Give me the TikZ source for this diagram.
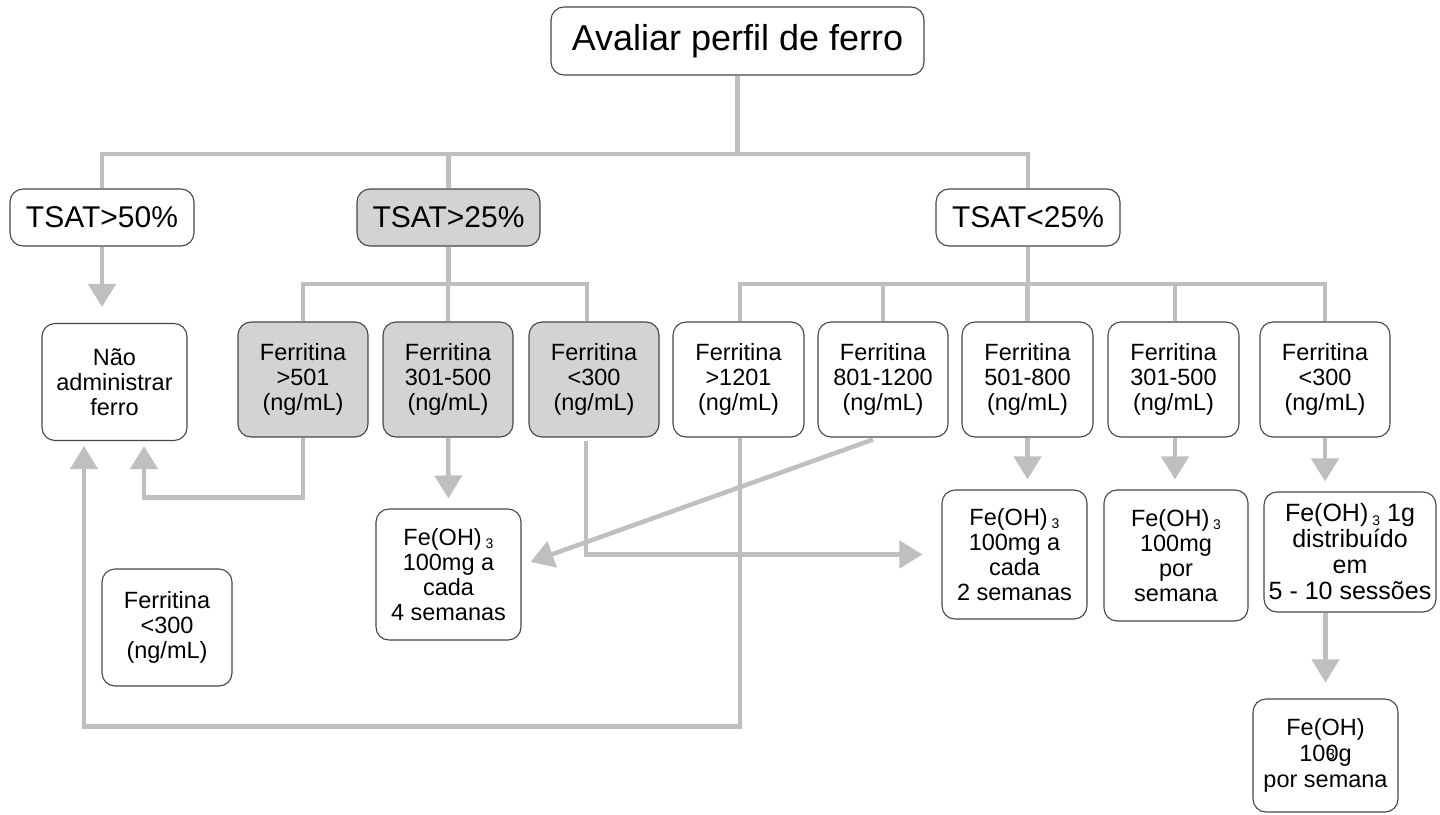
\documentclass[tikz,border=0pt]{standalone}
\usepackage{fontspec}
\setmainfont{Liberation Sans}
\usetikzlibrary{arrows.meta,calc}
\definecolor{conncol}{RGB}{190,191,193}
\definecolor{boxfill}{RGB}{210,211,213}
\definecolor{boxline}{RGB}{70,70,70}
\newcommand{\subthree}{\,\raisebox{-0.25ex}{\fontsize{14}{14}\selectfont 3}}
\tikzset{
  bx/.style={draw=boxline, line width=1.1pt, rounded corners=13pt, align=center,
             inner sep=0pt, fill=white, font=\fontsize{23.5}{25}\selectfont},
  gbx/.style={bx, fill=boxfill},
  sz/.style 2 args={minimum width=#1pt, minimum height=#2pt},
  tsat/.style={font=\fontsize{30}{32}\selectfont},
  ln/.style={draw=conncol, line width=4.5pt},
  ar/.style={ln, -{Triangle[width=27pt,length=23pt]}},
}
\begin{document}
\begin{tikzpicture}[x=1pt,y=-1pt]
\useasboundingbox (0,0) rectangle (1440,814);

% top level
\node[bx, sz={373}{68}, font=\fontsize{36}{40}\selectfont] (top) at (737.5,41) {Avaliar perfil de ferro};
\node[bx, sz={184}{57}, tsat] (t50) at (102,217.5) {TSAT>50\%};
\node[gbx, sz={183}{57}, tsat] (t25) at (448.5,217.5) {TSAT>25\%};
\node[bx, sz={184}{57}, tsat] (tl25) at (1028,217.5) {TSAT<25\%};

% second level
\node[bx, sz={145}{117}] (na) at (114.5,382) {Não\\administrar\\ferro};
\node[gbx, sz={130}{115}] (f1) at (303,379.5) {Ferritina\\>501\\(ng/mL)};
\node[gbx, sz={130}{115}] (f2) at (448,379.5) {Ferritina\\301-500\\(ng/mL)};
\node[gbx, sz={130}{115}] (f3) at (594,379.5) {Ferritina\\<300\\(ng/mL)};
\node[bx, sz={131}{115}] (g1) at (738.5,379.5) {Ferritina\\>1201\\(ng/mL)};
\node[bx, sz={130}{115}] (g2) at (883,379.5) {Ferritina\\801-1200\\(ng/mL)};
\node[bx, sz={131}{115}] (g3) at (1027.5,379.5) {Ferritina\\501-800\\(ng/mL)};
\node[bx, sz={131}{115}] (g4) at (1173.5,379.5) {Ferritina\\301-500\\(ng/mL)};
\node[bx, sz={130}{115}] (g5) at (1325,379.5) {Ferritina\\<300\\(ng/mL)};

% third level
\node[bx, sz={145}{131}] (fe4) at (448.5,574.5) {Fe(OH)\subthree\\100mg a\\cada\\4 semanas};
\node[bx, sz={130}{117}] (lone) at (167,627.5) {Ferritina\\<300\\(ng/mL)};
\node[bx, sz={145}{129}] (fe2) at (1014.5,554.5) {Fe(OH)\subthree\\100mg a\\cada\\2 semanas};
\node[bx, sz={144}{131}] (fe1) at (1176,555.5) {Fe(OH)\subthree\\100mg\\por\\semana};
\node[bx, sz={172}{120}, font=\fontsize{25}{26}\selectfont] (fe10) at (1350,552) {Fe(OH)\subthree\ 1g\\distribuído\\em\\5 - 10 sessões};
\node[bx, sz={145}{113}, font=\fontsize{23.5}{26}\selectfont] (feb) at (1325.5,755.5) {Fe(OH)\\10\rlap{\kern0.05em\raisebox{0.15ex}{\fontsize{15}{15}\selectfont 3}}0g\\por semana};

% junctions
\coordinate (h1) at (737.5,154);
\coordinate (h2) at (448.5,284);
\coordinate (h3) at (1028,284);

% top tree
\draw[ln] (top.south) -- (h1);
\draw[ln] (t50.north) |- (h1) -| (tl25.north);
\draw[ln] (t25.north) -- (t25.north |- h1);

% TSAT>25 tree
\draw[ln] (t25.south) -- (h2);
\draw[ln] (f1.north) |- (h2) -| ([xshift=-7pt]f3.north);
\draw[ln] (f2.north) -- (f2.north |- h2);

% TSAT<25 tree
\draw[ln] (tl25.south) -- (h3);
\draw[ln] ([xshift=1.5pt]g1.north) |- (h3) -| (g5.north);
\draw[ln] (g2.north) -- (g2.north |- h3);
\draw[ln] (g3.north) -- (g3.north |- h3);
\draw[ln] ([xshift=1.5pt]g4.north) -- ([xshift=1.5pt]g4.north |- h3);

% arrows
\draw[ar, shorten >=16pt] (t50.south) -- (t50.south |- na.north);
\draw[ar, shorten >=5pt] (f1.south) -- ++(0,60) -| ([xshift=29.5pt]na.south);
\draw[ar, shorten >=5pt] ([xshift=1.5pt]g1.south) -- ++(0,289) -| ([xshift=-30.5pt]na.south);
\draw[ar, shorten >=10pt] (f2.south) -- (fe4.north);
\draw[ar] ([xshift=-10pt,yshift=-2pt]g2.south) -- ($(fe4.east)+(9,-12.5)$);
\draw[ar, shorten >=19pt] ([xshift=-8pt,yshift=-3pt]f3.south) |- (fe2.west);
\draw[ar, shorten >=10pt] (g3.south) -- (g3.south |- fe2.north);
\draw[ar, shorten >=10pt] ([xshift=1.5pt]g4.south) -- ([xshift=1.5pt]g4.south |- fe1.north);
\draw[ar, shorten >=10pt] (g5.south) -- (g5.south |- fe10.north);
\draw[ar, shorten >=16pt] (feb.north |- fe10.south) -- (feb.north);
\end{tikzpicture}
\end{document}
